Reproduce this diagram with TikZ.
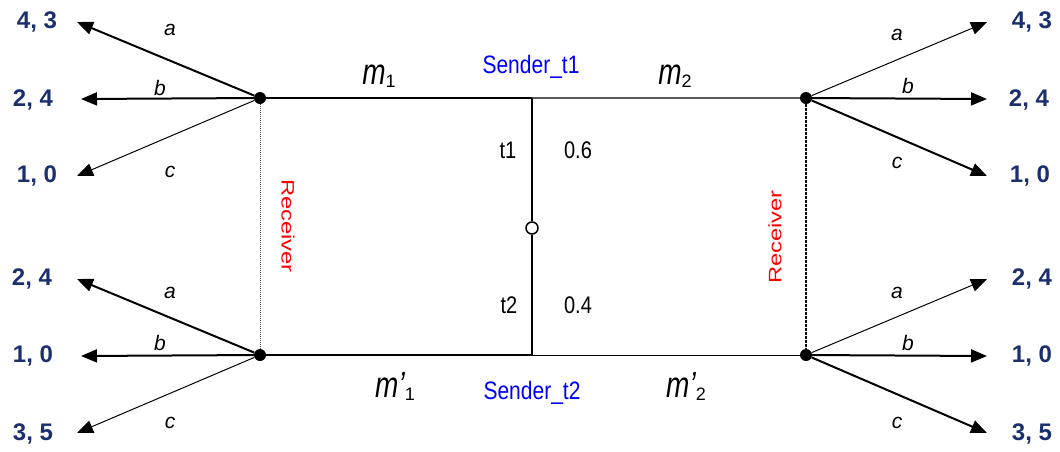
\documentclass[tikz,border=0pt]{standalone}
\usepackage{fontspec}
\setmainfont{Liberation Sans}
\usetikzlibrary{arrows.meta}
\definecolor{payblue}{HTML}{1B2F6E}
\definecolor{sendblue}{HTML}{0000FF}
\definecolor{recvred}{HTML}{FF0000}
\newcommand{\mlab}[2]{\scalebox{1}[1.3]{\fontsize{28}{30}\selectfont\itshape m#1}\raisebox{-3pt}{\fontsize{18}{20}\selectfont #2}}
\newcommand{\tall}[1]{\scalebox{1}[1.2]{#1}}
\begin{document}
\begin{tikzpicture}[x=1pt,y=-1pt,
  dot/.style={circle,fill=black,inner sep=0pt,minimum size=12pt},
  chance/.style={circle,draw=black,fill=white,line width=1.5pt,inner sep=0pt,minimum size=12pt},
  heavyedge/.style={line width=2pt,-{Triangle[length=16pt,width=13pt]}},
  lightedge/.style={line width=1pt,-{Triangle[length=16pt,width=13pt]}},
  pay/.style={font=\fontsize{24}{28}\selectfont\bfseries,text=payblue,inner sep=0pt},
  act/.style={font=\fontsize{21}{24}\selectfont\itshape,inner sep=0pt},
  msg/.style={inner sep=0pt,anchor=base},
  small/.style={font=\fontsize{20}{24}\selectfont,inner sep=0pt},
  sender/.style={font=\fontsize{21}{24}\selectfont,text=sendblue,inner sep=0pt},
  receiver/.style={font=\fontsize{18}{20}\selectfont,text=recvred,inner sep=0pt}]
\useasboundingbox (0,0) rectangle (1060,451);

% decision nodes
\node[dot] (L1) at (260,98) {};
\node[dot] (L2) at (260,355) {};
\node[dot] (R1) at (806,98) {};
\node[dot] (R2) at (806,355) {};
\coordinate (T) at (532,98);
\coordinate (B) at (532,355);
\node[chance] (C) at (532,228) {};

% tree lines
\draw[line width=2pt] (L1) -- (T);
\draw[line width=1.4pt,draw=black!65] (T) -- (R1);
\draw[line width=2pt] (L2) -- (B);
\draw[line width=1pt] (B) -- (R2);
\draw[line width=1.5pt] (T) -- (C);
\draw[line width=1.5pt] (C) -- (B);

% information sets
\draw[black!70,line width=0.8pt,dash pattern=on 1pt off 1pt] (L1) -- (L2);
\draw[line width=1.5pt,dash pattern=on 2.5pt off 1.5pt] (R1) -- (R2);

% arrow tips
\coordinate (LTa) at (77,22);
\coordinate (LTb) at (81,99);
\coordinate (LTc) at (77,176);
\coordinate (LBa) at (77,279);
\coordinate (LBb) at (81,356);
\coordinate (LBc) at (77,433);
\coordinate (RTa) at (987,22);
\coordinate (RTb) at (987,99);
\coordinate (RTc) at (987,176);
\coordinate (RBa) at (987,279);
\coordinate (RBb) at (987,356);
\coordinate (RBc) at (987,433);

\draw[heavyedge] (L1) -- (LTa);
\draw[heavyedge] (L1) -- (LTb);
\draw[lightedge] (L1) -- (LTc);
\draw[heavyedge] (L2) -- (LBa);
\draw[heavyedge] (L2) -- (LBb);
\draw[lightedge] (L2) -- (LBc);
\draw[lightedge] (R1) -- (RTa);
\draw[heavyedge] (R1) -- (RTb);
\draw[heavyedge] (R1) -- (RTc);
\draw[lightedge] (R2) -- (RBa);
\draw[heavyedge] (R2) -- (RBb);
\draw[heavyedge] (R2) -- (RBc);

% action labels
\node[act] (aLT) at (170,30) {a};
\node[act] (bLT) at (160,88) {b};
\node[act] (cLT) at (170,172) {c};
\node[act] (aLB) at (170,293) {a};
\node[act] (bLB) at (160,343) {b};
\node[act] (cLB) at (170,423) {c};
\node[act] (aRT) at (897,35) {a};
\node[act] (bRT) at (908,86) {b};
\node[act] (cRT) at (897,163) {c};
\node[act] (aRB) at (897,293) {a};
\node[act] (bRB) at (908,343) {b};
\node[act] (cRB) at (897,423) {c};

% payoffs
\node[pay] (pLT1) at (37,22) {4, 3};
\node[pay] (pLT2) at (33,100) {2, 4};
\node[pay] (pLT3) at (37,176) {1, 0};
\node[pay] (pLB1) at (32,279) {2, 4};
\node[pay] (pLB2) at (33,356) {1, 0};
\node[pay] (pLB3) at (33,434) {3, 5};
\node[pay] (pRT1) at (1032,22) {4, 3};
\node[pay] (pRT2) at (1029,100) {2, 4};
\node[pay] (pRT3) at (1030,176) {1, 0};
\node[pay] (pRB1) at (1032,279) {2, 4};
\node[pay] (pRB2) at (1032,356) {1, 0};
\node[pay] (pRB3) at (1032,434) {3, 5};

% messages
\node[msg] (m1) at (379,84) {\mlab{}{1}};
\node[msg] (m2) at (675,84) {\mlab{}{2}};
\node[msg] (m1p) at (395,397) {\mlab{’}{1}};
\node[msg] (m2p) at (686,397) {\mlab{’}{2}};

% sender / nature labels
\node[sender] (S1) at (531,67) {\tall{Sender\_t1}};
\node[sender] (S2) at (532,393) {\tall{Sender\_t2}};
\node[small] (t1) at (508,150) {\tall{t1}};
\node[small] (p1) at (578,150) {\tall{0.6}};
\node[small] (t2) at (509,305) {\tall{t2}};
\node[small] (p2) at (578,305) {\tall{0.4}};

% receiver labels
\node[receiver,rotate=-90] (RecL) at (288,226) {\scalebox{1.32}[1]{Receiver}};
\node[receiver,rotate=90] (RecR) at (775,237) {\scalebox{1.32}[1]{Receiver}};
\end{tikzpicture}
\end{document}
